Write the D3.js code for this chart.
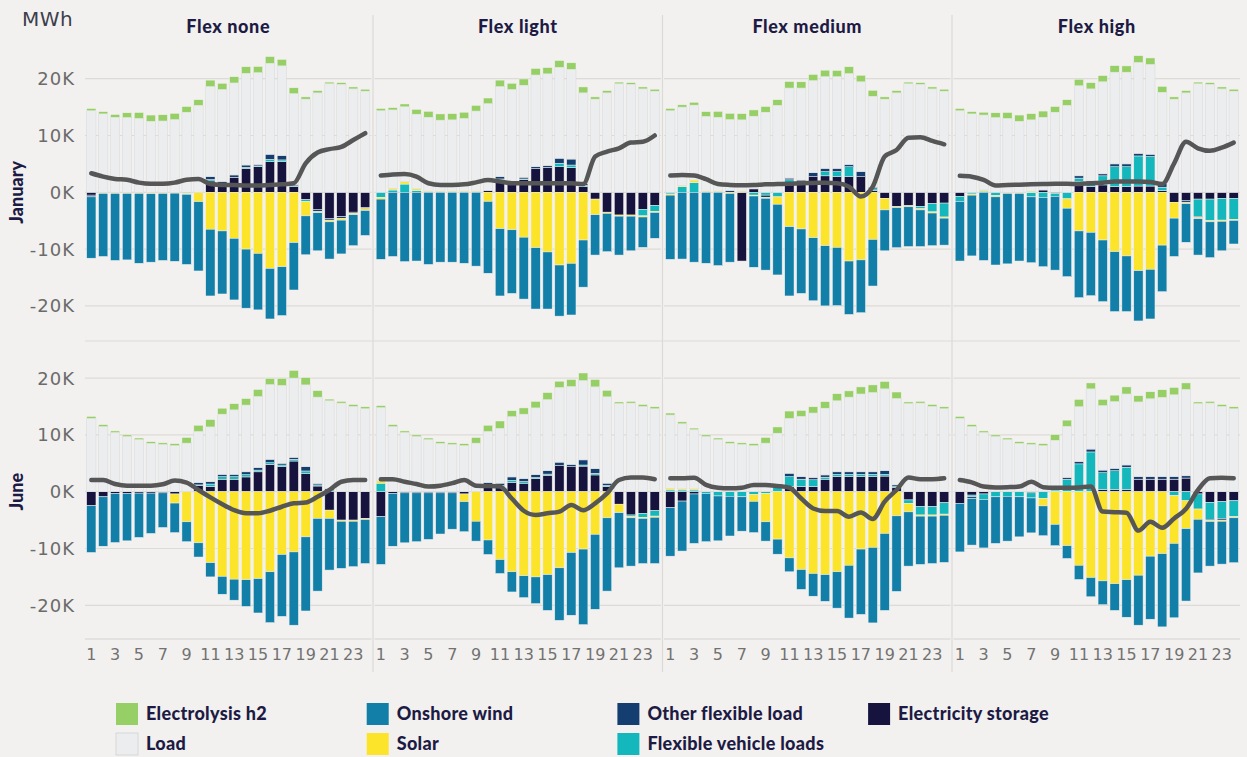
<!DOCTYPE html>
<html>
<head>
<meta charset="utf-8">
<script src="https://cdn.jsdelivr.net/npm/d3@7"></script>
<style>
  body { margin: 0; background: #f2f1ef; }
  svg { display: block; font-family: "DejaVu Sans", sans-serif; }
</style>
</head>
<body>
<svg id="chart" width="1247" height="757"></svg>
<script>
// ---- data (thousand MWh) ----
const hours = [1,2,3,4,5,6,7,8,9,10,11,12,13,14,15,16,17,18,19,20,21,22,23,24];
const months = ["January", "June"];
const scenarios = ["Flex none", "Flex light", "Flex medium", "Flex high"];
const yTicks = [-20, -10, 0, 10, 20];
const xTicks = [1,3,5,7,9,11,13,15,17,19,21,23];

// shared per month
const load = [
  [14.35,13.8,13.2,13.15,13.0,12.5,12.55,12.8,14.1,15.3,15.85,16.2,16.2,16.15,16.15,16.0,15.8,16.0,16.4,17.5,19.1,19.0,18.2,17.8],
  [12.9,11.45,10.4,9.7,9.15,8.5,8.3,8.1,8.55,9.0,9.65,10.6,11.35,11.75,12.5,13.15,13.7,13.95,14.4,15.2,15.5,15.6,15.0,14.6]
];
const electrolysis = [
  [0.4,0.4,0.5,0.85,1.05,1.1,1.1,1.1,1.0,1.0,1.15,1.1,1.1,1.15,1.1,1.2,1.15,1.05,0.4,0.4,0.3,0.3,0.35,0.35],
  [0.35,0.35,0.3,0.3,0.3,0.3,0.3,0.35,1.0,1.1,1.3,1.05,1.1,1.15,1.25,1.1,1.25,1.35,1.3,1.15,0.3,0.3,0.35,0.35]
];

// per panel: Jan none, Jan light, Jan medium, Jan high, Jun none, Jun light, Jun medium, Jun high
const storage = [
  [-0.5,0,0,0,0,0,0,0,0,0,2.0,1.6,2.65,4.2,4.5,5.4,5.4,1.0,-1.3,-3.0,-4.6,-4.3,-3.5,-2.7],
  [0,0,0,0,0,0,0,0,0,0.3,2.2,1.6,2.25,4.2,4.4,4.5,4.35,1.0,-1.2,-3.5,-4.0,-4.0,-3.0,-2.3],
  [0,0,0,0,0,0,-12.1,0.6,0,0,1.7,1.8,2.75,2.9,2.75,2.75,2.75,0.3,-1.05,-2.5,-2.35,-2.5,-2.0,-1.9],
  [-0.7,0,0,0,0,0,0,0.4,-0.2,0,1.9,1.0,1.3,1.0,1.0,1.1,1.1,0.3,-1.75,-1.5,-1.2,-1.2,-1.1,-1.1],
  [-2.45,-0.9,-0.35,-0.3,-0.25,-0.25,-0.2,-0.4,0,1.1,0.9,2.2,2.2,2.6,3.5,4.8,4.4,5.4,3.25,1.0,-3.25,-5.0,-5.0,-4.7],
  [-4.4,-0.3,-0.2,-0.2,-0.2,-0.2,-0.2,-0.4,0,0.9,0.8,1.6,1.5,2.3,2.9,4.6,4.4,4.5,2.95,0.9,-2.2,-4.1,-3.8,-3.35],
  [-2.8,-1.65,-0.4,0,0,0,0,0,0,0,0.9,0.9,0.9,2.2,2.65,2.65,2.65,2.65,2.75,0.7,-1.45,-2.65,-2.65,-1.95],
  [-2.05,-0.6,-0.4,0,0,0,-0.2,0,0,0,0,0,0.4,0.4,0.4,2.2,2.2,2.2,2.2,2.4,-0.4,-1.9,-1.75,-1.6]
];
const vehicle = [
  [0,0,0,0,0,0,0,0,-0.2,0,0.25,0,0,0.2,0.15,0.4,0.3,0.15,-0.35,0,0,0,0,0],
  [-0.9,0.4,1.45,0.3,0,0,0,0,0,0,0.15,0,0.1,0,0,0.6,0.45,0.2,0,0,0,0,-1.15,-1.05],
  [-0.3,1.0,1.7,0,0,0,0,-0.5,-0.5,-0.8,0.5,0,0,0.75,0.9,1.75,0,0.3,0,0,0,-0.4,-1.45,-2.45],
  [-0.9,-0.3,0.2,-0.6,0,0,-0.8,-0.9,-0.5,-1.15,0.6,0.6,1.6,3.5,3.5,5.3,5.2,0.6,0,0,-3.05,-3.8,-3.8,-3.65],
  [0,0,0,0,0,0,0,0,0,0.1,0.45,0.45,0.45,0.4,0.3,0.3,0.3,0.3,0.4,0.2,0.2,0,0,0],
  [1.5,0,0,0,0,0,0,0,0,0.3,0.3,0.4,0.3,0.2,0.2,0,0,0.2,0.3,0.2,0,-0.3,-0.7,-0.95],
  [0.3,0.3,0.3,-0.3,-0.75,-0.8,-0.9,-0.5,-0.3,1.3,1.75,1.3,1.2,0.35,0.4,0.4,0.4,0.4,0.3,0.2,-0.6,-1.45,-1.45,-2.0],
  [0,-0.3,-0.95,-0.9,-0.8,-0.9,-0.9,-1.2,0.3,2.2,4.9,7.0,2.95,3.3,3.9,0,0,0,-0.7,-1.6,-2.65,-2.95,-2.95,-2.8]
];
const otherFlex = [
  [-0.3,0,0,0,0,0,0,0,0,0,0.5,0.3,0.4,0.4,0.25,0.9,0.75,0.2,0,-0.4,-0.3,-0.3,-0.2,-0.2],
  [0,0,0,0,0,0,0,0,0,0,0.4,0.3,0.3,0.3,0.3,0.9,1.05,0.3,0,0,0,0,0,0],
  [0,0,0,0,0,0.3,0,0,-0.4,0,0.3,0.35,0.7,0.55,0.55,0.4,0.9,0.3,0,0,0,0,0,0],
  [0,0,0,0,0,0,0,0,0,0,0.4,0.4,0.35,0.5,0.5,0.45,0.4,0.7,0,-0.3,-0.2,0,0,0],
  [0,0,0,0,0,0,0,0,0,0.4,0.4,0.4,0.4,0.5,0.45,0.6,0.3,0.35,0.75,0.25,0.3,0,0,0],
  [0,0,0,0,0,0,0,0,0,0.4,0.4,0.6,0.5,0.5,0.6,0.6,0.4,0.9,0.8,0.4,0,0,0,0],
  [0,0,0,0,0,0,0,0,0,0,0.6,0.45,0.4,0.4,0.45,0.45,0.45,0.45,0.65,0.3,0,0,0,0],
  [0,-0.3,0,0,0,0,0,0,0.2,0.3,0.4,0.5,0.45,0.4,0.4,0.45,0.45,0.45,0.45,0.4,0,-0.2,-0.3,0]
];
const solar = [
  [0,-0.2,-0.2,-0.2,-0.2,-0.25,-0.2,-0.15,-0.15,-1.65,-6.5,-6.8,-8.1,-10.0,-10.75,-13.4,-13.1,-8.85,-2.5,-0.2,-0.3,-0.3,-0.25,-0.3],
  [-0.3,0.3,0.4,0.3,0.2,0.2,0.2,0.2,0.2,-1.6,-6.4,-6.6,-7.9,-9.75,-10.5,-12.8,-12.5,-8.4,-2.75,-0.2,-0.2,-0.2,-0.2,-0.2],
  [-0.2,0.2,0.45,0.2,0.2,-0.2,0.2,-0.15,-0.15,-1.3,-6.05,-6.45,-8.0,-9.4,-9.7,-12.1,-11.9,-8.3,-2.05,-0.2,-0.2,-0.2,-0.2,-0.2],
  [0,-0.2,0.2,-0.2,-0.2,-0.2,0.2,0,0,-1.65,-6.8,-7.05,-8.4,-10.45,-11.2,-13.8,-13.55,-9.3,-2.8,-0.2,-0.2,-0.2,-0.2,-0.2],
  [0,0,0,0,0,0,0,-1.6,-5.3,-9.0,-12.5,-14.9,-15.4,-15.5,-15.3,-14.1,-11.05,-10.6,-7.95,-4.7,-1.45,-0.2,-0.2,-0.2],
  [0.4,0,0,0,0,0,0,-1.35,-5.2,-8.5,-11.95,-14.1,-14.8,-15.0,-14.6,-13.4,-10.7,-10.1,-7.5,-4.6,-1.5,-0.2,-0.2,-0.2],
  [0.3,0.2,0.2,0,0,0,0,-1.2,-5.0,-8.35,-11.65,-13.7,-14.4,-14.6,-14.1,-12.95,-10.1,-9.8,-7.35,-4.25,-1.5,-0.2,-0.2,-0.2],
  [0,0,0,0,0,0,0,-1.3,-5.75,-9.5,-12.95,-15.1,-15.7,-16.2,-15.5,-14.7,-11.35,-10.9,-8.4,-4.9,-1.8,-0.2,-0.2,-0.2]
];
const wind = [
  [-10.8,-11.1,-11.8,-11.7,-12.3,-12.05,-11.8,-12.0,-12.35,-12.2,-11.75,-11.1,-10.85,-10.4,-9.95,-8.9,-8.6,-8.35,-6.85,-6.7,-6.55,-5.95,-5.45,-4.4],
  [-10.6,-11.3,-12.2,-12.1,-12.7,-12.3,-12.3,-12.5,-13.0,-12.65,-11.85,-11.2,-10.9,-10.8,-10.05,-9.0,-9.1,-8.3,-7.1,-6.75,-6.85,-6.1,-5.35,-4.55],
  [-11.3,-11.75,-12.3,-12.5,-12.9,-12.1,0,-12.55,-12.65,-12.45,-12.2,-11.35,-11.1,-10.6,-10.25,-9.4,-9.3,-8.2,-7.2,-7.05,-7.0,-6.45,-5.75,-4.75],
  [-10.5,-10.7,-12.0,-12.0,-12.4,-11.9,-11.6,-12.2,-13.0,-12.05,-11.75,-11.15,-10.85,-10.55,-9.8,-8.85,-8.75,-8.2,-6.75,-6.8,-6.4,-6.3,-5.2,-4.15],
  [-8.25,-8.7,-8.6,-8.35,-7.8,-7.1,-6.1,-5.2,-3.5,-2.5,-2.5,-3.15,-3.7,-4.7,-6.05,-8.95,-10.9,-12.9,-13.05,-12.8,-9.1,-8.3,-8.0,-7.75],
  [-8.4,-9.3,-8.8,-8.6,-8.2,-7.25,-6.4,-5.3,-3.5,-2.55,-2.45,-3.55,-3.85,-4.7,-6.3,-9.25,-11.05,-13.3,-13.2,-12.9,-9.7,-8.5,-7.95,-8.15],
  [-8.55,-8.8,-8.7,-8.5,-7.9,-7.0,-6.05,-5.5,-3.4,-2.65,-2.45,-3.5,-4.0,-4.7,-6.4,-9.3,-11.5,-13.3,-13.55,-13.3,-9.55,-8.5,-8.35,-8.3],
  [-8.55,-8.2,-8.55,-8.2,-7.9,-7.05,-6.15,-5.25,-3.75,-2.25,-2.5,-3.4,-4.2,-4.7,-6.6,-8.8,-11.1,-12.9,-13.1,-12.75,-9.45,-7.85,-7.55,-7.9]
];
const netLine = [
  [3.35,2.75,2.35,2.2,1.7,1.5,1.5,1.7,2.2,2.35,1.45,1.3,1.3,1.2,1.2,1.3,1.4,1.6,5.1,7.0,7.6,8.0,9.2,10.4],
  [2.95,3.15,3.2,2.75,1.6,1.3,1.3,1.4,1.75,2.15,1.9,1.6,1.6,1.6,1.6,1.6,1.6,1.45,6.3,7.15,7.75,8.75,8.9,10.0],
  [2.95,3.05,2.95,2.3,1.45,1.3,1.25,1.3,1.4,1.45,1.5,1.6,1.65,1.7,1.6,1.0,-0.75,1.0,6.3,7.45,9.6,9.7,9.05,8.45],
  [2.9,2.75,2.2,1.2,1.3,1.35,1.4,1.45,1.5,1.5,1.45,1.6,1.7,1.9,1.9,1.9,1.8,1.45,5.1,8.9,7.75,7.3,7.85,8.75],
  [2.05,2.05,1.35,1.05,1.05,1.05,1.3,1.95,1.6,0.3,-1.0,-2.2,-3.25,-3.8,-3.8,-3.35,-2.65,-2.05,-1.9,-0.9,0.3,1.75,2.05,2.05],
  [2.2,2.2,1.75,1.35,0.9,1.05,1.5,2.05,1.05,1.0,0.9,-1.2,-3.35,-4.1,-3.8,-3.5,-2.35,-3.25,-2.05,-0.3,2.05,2.5,2.5,2.2],
  [2.35,2.35,2.45,1.2,0.7,0.6,0.7,1.2,1.2,1.0,0.7,-1.2,-2.95,-3.4,-3.4,-4.4,-3.65,-4.8,-1.75,0.3,2.5,2.2,2.2,2.35],
  [2.05,1.65,0.9,0.75,0.8,0.9,1.75,0.8,0.7,0.7,0.75,0.9,-3.5,-3.6,-3.7,-6.85,-5.3,-6.35,-4.7,-3.0,0.3,2.35,2.45,2.35]
];

const legendNames = ["Electrolysis h2", "Load", "Onshore wind", "Solar", "Other flexible load", "Flexible vehicle loads", "Electricity storage"];
const colors = {
  "Electrolysis h2": "#95cf65",
  "Load": "#ebedef",
  "Onshore wind": "#127fa8",
  "Solar": "#fbe42a",
  "Other flexible load": "#153e70",
  "Flexible vehicle loads": "#13b7bc",
  "Electricity storage": "#16143f"
};

// ---- layout ----
const svg = d3.select("#chart");
const panelW = 286.5;
const panelX = [85, 374.5, 664, 953.5];
const rows = [
  { top: 15, bottom: 338, zero: 192.3 },
  { top: 343, bottom: 639, zero: 491.7 }
];
const pxPerK = 5.68;
const titleColor = "#1d1b44";

// stack order: positives build upward in this order, negatives build downward
function panelSeries(m, p) {
  const i = m * 4 + p;
  return [
    ["Electricity storage", storage[i]],
    ["Flexible vehicle loads", vehicle[i]],
    ["Other flexible load", otherFlex[i]],
    ["Solar", solar[i]],
    ["Onshore wind", wind[i]],
    ["Load", load[m]],
    ["Electrolysis h2", electrolysis[m]]
  ];
}

rows.forEach((row, m) => {
  const y = d3.scaleLinear().domain([-20, 20])
    .range([row.zero + 20 * pxPerK, row.zero - 20 * pxPerK]);

  // y tick labels
  svg.append("g").selectAll("text").data(yTicks).join("text")
    .attr("x", 75).attr("y", d => y(d)).attr("dy", "0.36em")
    .attr("text-anchor", "end")
    .attr("font-size", 18).attr("letter-spacing", 1)
    .attr("fill", "#6b6b6b")
    .text(d => d + "K");

  // row label
  svg.append("text")
    .attr("transform", `translate(23,${row.zero}) rotate(-90)`)
    .attr("text-anchor", "middle")
    .attr("font-family", "Lato, sans-serif").attr("font-weight", 900)
    .attr("font-size", 18).attr("fill", titleColor)
    .text(months[m]);

  scenarios.forEach((name, p) => {
    const x0 = panelX[p];
    const x = d3.scaleBand().domain(hours).range([x0, x0 + panelW])
      .paddingInner(0.22).paddingOuter(0.14);
    const g = svg.append("g");

    // gridlines
    g.selectAll("line.grid").data(yTicks).join("line")
      .attr("x1", x0).attr("x2", x0 + panelW)
      .attr("y1", d => y(d)).attr("y2", d => y(d))
      .attr("stroke", "#dddbd8").attr("stroke-width", 1.2);

    // stacked bars
    const series = panelSeries(m, p);
    const segs = [];
    hours.forEach((h, k) => {
      let pos = 0, neg = 0;
      series.forEach(([key, vals]) => {
        const v = vals[k];
        if (v > 0) { segs.push({ h, key, a: pos, b: pos + v }); pos += v; }
        else if (v < 0) { segs.push({ h, key, a: neg + v, b: neg }); neg += v; }
      });
    });
    g.selectAll("rect").data(segs).join("rect")
      .attr("x", d => x(d.h)).attr("width", x.bandwidth())
      .attr("y", d => y(d.b)).attr("height", d => y(d.a) - y(d.b))
      .attr("fill", d => colors[d.key])
      .attr("stroke", d => d.key === "Load" ? "#d6d8da" : "#f2f1ef")
      .attr("stroke-width", 0.5);

    // line
    const line = d3.line()
      .x((d, k) => x(hours[k]) + x.bandwidth() / 2)
      .y(d => y(d))
      .curve(d3.curveMonotoneX);
    g.append("path").datum(netLine[m * 4 + p])
      .attr("d", line).attr("fill", "none")
      .attr("stroke", "#565656").attr("stroke-width", 4.5)
      .attr("stroke-linecap", "round").attr("stroke-linejoin", "round");

    if (m === 0) {
      svg.append("text")
        .attr("x", x0 + panelW / 2).attr("y", 33)
        .attr("text-anchor", "middle")
        .attr("font-family", "Lato, sans-serif").attr("font-weight", 900)
        .attr("font-size", 18).attr("letter-spacing", 0.6).attr("fill", titleColor)
        .text(name);
    } else {
      // x axis
      g.append("line").attr("x1", x0).attr("x2", x0 + panelW)
        .attr("y1", row.bottom).attr("y2", row.bottom)
        .attr("stroke", "#d6d4d1").attr("stroke-width", 1.2);
      g.selectAll("text.xt").data(xTicks).join("text")
        .attr("x", d => x(d) + x.bandwidth() / 2).attr("y", 660)
        .attr("text-anchor", "middle")
        .attr("font-size", 16).attr("fill", "#727272")
        .text(d => d);
    }
  });
});

// row divider and panel separators
svg.append("line").attr("x1", 85).attr("x2", 1240).attr("y1", 341).attr("y2", 341)
  .attr("stroke", "#dddbd8").attr("stroke-width", 1.2);
panelX.slice(1).forEach(px => {
  svg.append("line").attr("x1", px - 1.5).attr("x2", px - 1.5)
    .attr("y1", 15).attr("y2", 672)
    .attr("stroke", "#dcdad7").attr("stroke-width", 1.2);
});

// unit label
svg.append("text").attr("x", 22).attr("y", 26)
  .attr("font-size", 20).attr("letter-spacing", 0.5).attr("fill", "#3e3e4c").text("MWh");

// legend
const legend = svg.append("g");
legendNames.forEach((name, i) => {
  const col = Math.floor(i / 2), r = i % 2;
  const lx = 116 + col * 250.7, ly = 703 + r * 30;
  legend.append("rect").attr("x", lx).attr("y", ly).attr("width", 22).attr("height", 22)
    .attr("fill", colors[name])
    .attr("stroke", name === "Load" ? "#cfd1d3" : "none").attr("stroke-width", 0.8);
  legend.append("text").attr("x", lx + 30).attr("y", ly + 17)
    .attr("font-family", "Lato, sans-serif").attr("font-weight", 900)
    .attr("font-size", 18).attr("letter-spacing", 0.3).attr("fill", titleColor)
    .text(name);
});
</script>
</body>
</html>
